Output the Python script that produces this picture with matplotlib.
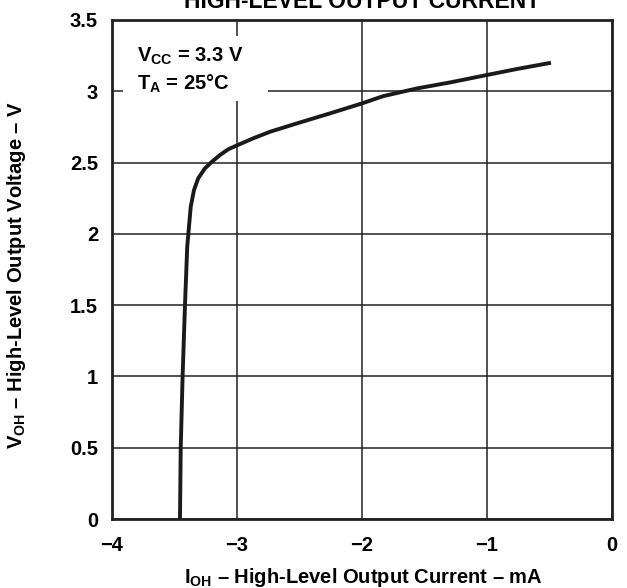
import matplotlib
matplotlib.use('Agg')
import matplotlib.pyplot as plt
from matplotlib.patches import Rectangle

plt.rcParams['font.family'] = ['Liberation Sans', 'DejaVu Sans']
plt.rcParams['font.weight'] = 'bold'
plt.rcParams['mathtext.fontset'] = 'custom'
plt.rcParams['mathtext.rm'] = 'Liberation Sans:bold'
plt.rcParams['mathtext.it'] = 'Liberation Sans:bold'
plt.rcParams['mathtext.bf'] = 'Liberation Sans:bold'

# curve: I_OH (mA) vs V_OH (V)
ioh = [-3.456, -3.45, -3.435, -3.416, -3.398, -3.386, -3.37, -3.344, -3.31,
       -3.256, -3.20, -3.136, -3.07, -2.994, -2.87, -2.736, -2.52, -2.256,
       -2.0, -1.83, -1.56, -1.296, -0.99, -0.762, -0.488]
voh = [0.0, 0.5, 1.0, 1.5, 1.91, 2.03, 2.19, 2.307, 2.39,
       2.46, 2.506, 2.553, 2.593, 2.623, 2.67, 2.716, 2.775, 2.845,
       2.915, 2.966, 3.02, 3.062, 3.116, 3.156, 3.2]

xticks = [-4, -3, -2, -1, 0]
xlabels = ['\u22124', '\u22123', '\u22122', '\u22121', '0']
yticks = [0, 0.5, 1, 1.5, 2, 2.5, 3, 3.5]
ylabels = ['0', '0.5', '1', '1.5', '2', '2.5', '3', '3.5']

dash = '\u2013'
fs = 14.5

fig = plt.figure(figsize=(6.27, 5.88), dpi=100)
ax = fig.add_axes([0.1786, 0.1173, 0.7974, 0.8487])

ax.set_xlim(-4, 0)
ax.set_ylim(0, 3.5)
ax.set_xticks(xticks)
ax.set_xticklabels(xlabels)
ax.set_yticks(yticks)
ax.set_yticklabels(ylabels)
ax.tick_params(axis='x', length=0, labelsize=fs, pad=12)
ax.tick_params(axis='y', length=0, labelsize=fs, pad=10)
for lab in ax.get_xticklabels() + ax.get_yticklabels():
    lab.set_fontweight('bold')

ax.grid(True, color='#222222', linewidth=1.1)
ax.set_axisbelow(True)
for sp in ax.spines.values():
    sp.set_linewidth(2)
    sp.set_color('#222222')

ax.plot(ioh, voh, color='#1a1a1a', linewidth=2.8, zorder=3,
        solid_capstyle='butt', solid_joinstyle='round')

# white box behind the conditions text
ax.add_patch(Rectangle((-3.91, 2.93), 1.16, 0.46, facecolor='white',
                       edgecolor='none', zorder=2))
ax.text(-3.8, 3.245, r'$\mathrm{V_{CC}}$ = 3.3 V', fontsize=fs,
        fontweight='bold', va='center', zorder=4)
ax.text(-3.8, 3.05, r'$\mathrm{T_{A}}$ = 25' + '\u00b0C', fontsize=fs,
        fontweight='bold', va='center', zorder=4)

ax.set_xlabel(r'$\mathrm{I_{OH}}$ ' + dash + ' High-Level Output Current ' + dash + ' mA',
              fontsize=fs, fontweight='bold')
ax.set_ylabel(r'$\mathrm{V_{OH}}$ ' + dash + ' High-Level Output Voltage ' + dash + ' V',
              fontsize=fs, fontweight='bold')
ax.xaxis.set_label_coords(0.503, -0.094)
ax.yaxis.set_label_coords(-0.168, 0.49)

fig.text(0.577, 0.998, 'HIGH-LEVEL OUTPUT CURRENT', ha='center', va='center',
         fontsize=16.5, fontweight='bold')

fig.savefig('out.png', dpi=100)
